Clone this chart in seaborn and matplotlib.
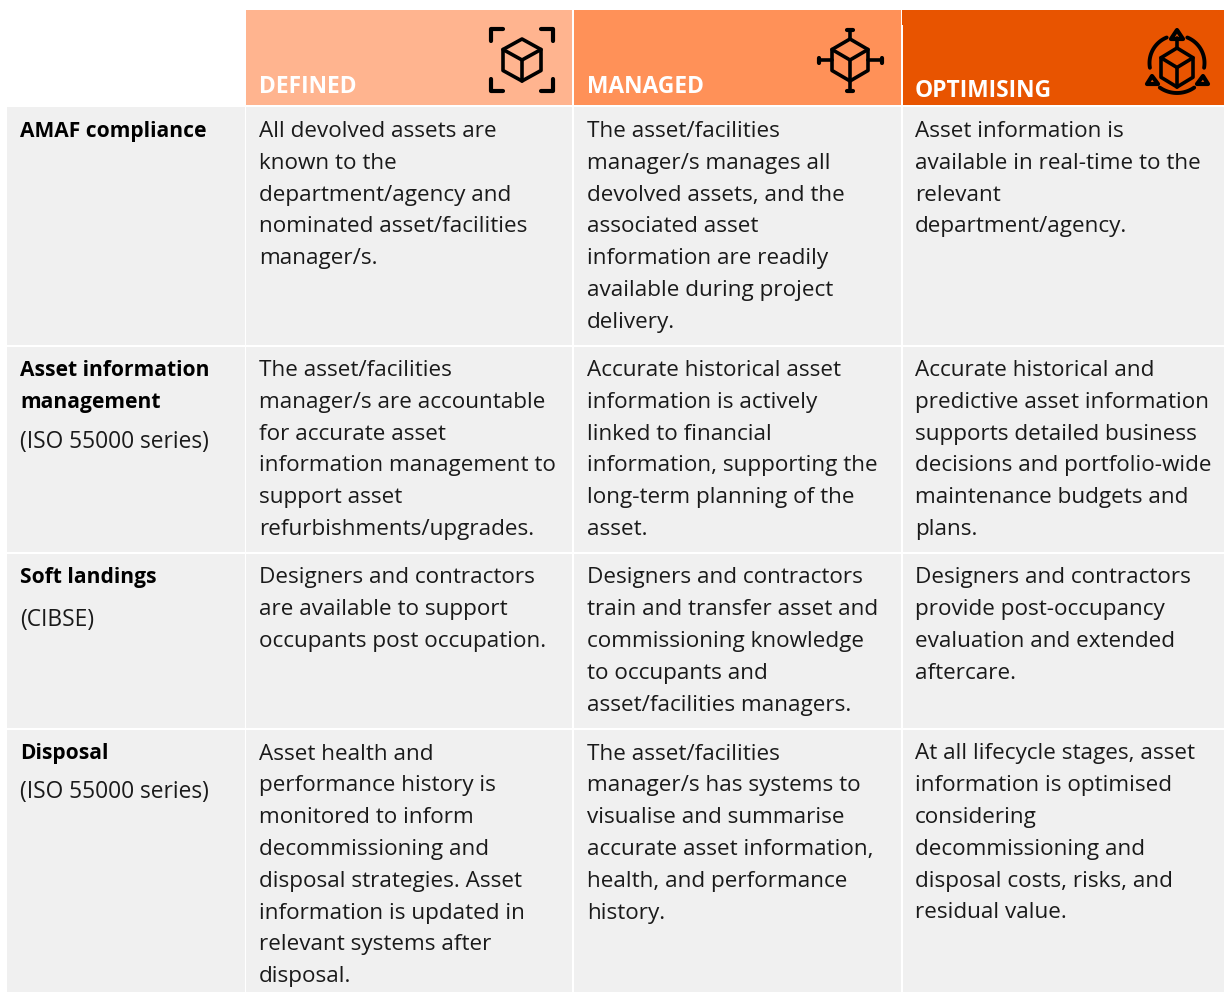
import numpy as np
import matplotlib
matplotlib.use("Agg")
import matplotlib.pyplot as plt
from matplotlib.patches import Rectangle, Polygon
import seaborn as sns

# ====================================
# TABLE CONTENT
# ====================================

headers = ["DEFINED", "MANAGED", "OPTIMISING"]

row_titles = [
    ["AMAF compliance"],
    ["Asset information", "management"],
    ["Soft landings"],
    ["Disposal"],
]
row_notes = ["", "(ISO 55000 series)", "(CIBSE)", "(ISO 55000 series)"]

defined_text = [
    ["All devolved assets are", "known to the", "department/agency and",
     "nominated asset/facilities", "manager/s."],
    ["The asset/facilities", "manager/s are accountable", "for accurate asset",
     "information management to", "support asset", "refurbishments/upgrades."],
    ["Designers and contractors", "are available to support", "occupants post occupation."],
    ["Asset health and", "performance history is", "monitored to inform", "decommissioning and",
     "disposal strategies. Asset", "information is updated in", "relevant systems after", "disposal."],
]
managed_text = [
    ["The asset/facilities", "manager/s manages all", "devolved assets, and the",
     "associated asset", "information are readily", "available during project", "delivery."],
    ["Accurate historical asset", "information is actively", "linked to financial",
     "information, supporting the", "long-term planning of the", "asset."],
    ["Designers and contractors", "train and transfer asset and", "commissioning knowledge",
     "to occupants and", "asset/facilities managers."],
    ["The asset/facilities", "manager/s has systems to", "visualise and summarise",
     "accurate asset information,", "health, and performance", "history."],
]
optimising_text = [
    ["Asset information is", "available in real-time to the", "relevant", "department/agency."],
    ["Accurate historical and", "predictive asset information", "supports detailed business",
     "decisions and portfolio-wide", "maintenance budgets and", "plans."],
    ["Designers and contractors", "provide post-occupancy", "evaluation and extended", "aftercare."],
    ["At all lifecycle stages, asset", "information is optimised", "considering",
     "decommissioning and", "disposal costs, risks, and", "residual value."],
]

# ====================================
# LAYOUT (pixels)
# ====================================

sns.set_theme(style="white")
plt.rcParams["font.family"] = ["Open Sans", "DejaVu Sans"]

header_colors = ["#FFB48F", "#FF9158", "#E85400"]
body_color = "#F0F0F0"
ink = "#1A1A1A"
font_size = 16.2
note_size = 16.4
title_size = 15.1

col_edges = [(7, 244.5), (246, 572), (574, 901), (902.7, 1224)]
text_x = [20, 259, 587, 915]
row_edges = [(106.7, 345), (347, 552), (554, 728), (730, 992)]
line_y = [129.5, 368.5, 576, 752]
note_y = [None, 440, 618, 791]
line_gap = 31.8

fig = plt.figure(figsize=(12.24, 9.92), dpi=100)
ax = fig.add_axes([0, 0, 1, 1])
ax.set_xlim(0, 1224)
ax.set_ylim(992, 0)
ax.axis("off")

# ====================================
# HEADER
# ====================================

ax.add_patch(Rectangle((246, 10), 326, 95, color=header_colors[0], lw=0))
ax.add_patch(Rectangle((574, 10), 327, 95, color=header_colors[1], lw=0))
ax.add_patch(Rectangle((902.7, 10), 321.3, 95, color=header_colors[2], lw=0))
ax.add_patch(Rectangle((901.5, 10), 2, 15, color=header_colors[2], lw=0))

header_y = [93, 93, 97]
for i, name in enumerate(headers):
    ax.text(text_x[i + 1], header_y[i], name, color="white", fontsize=16.4,
            fontweight="bold", va="baseline", ha="left")

# ====================================
# BODY
# ====================================

columns = [defined_text, managed_text, optimising_text]
for r, (top, bottom) in enumerate(row_edges):
    for left, right in col_edges:
        ax.add_patch(Rectangle((left, top), right - left, bottom - top, color=body_color, lw=0))

    for k, line in enumerate(row_titles[r]):
        ax.text(text_x[0], line_y[r] + 7.5 + k * line_gap, line, color="black",
                fontsize=title_size, fontweight="bold", va="baseline", ha="left")
    if row_notes[r]:
        ax.text(text_x[0], note_y[r] + 7.5, row_notes[r], color=ink,
                fontsize=note_size, va="baseline", ha="left")

    for c, column in enumerate(columns):
        for k, line in enumerate(column[r]):
            ax.text(text_x[c + 1], line_y[r] + 7.5 + k * line_gap, line, color=ink,
                    fontsize=font_size, va="baseline", ha="left")

# ====================================
# ICONS
# ====================================


def draw_cube(cx, top, bottom, half):
    mid = (top + bottom) / 2
    q = (bottom - top) / 4
    hexagon = [(cx, top), (cx + half, top + q), (cx + half, bottom - q),
               (cx, bottom), (cx - half, bottom - q), (cx - half, top + q)]
    ax.add_patch(Polygon(hexagon, closed=True, fill=False, ec="black", lw=2.6, joinstyle="round"))
    ax.plot([cx - half, cx, cx + half], [top + q, mid, top + q], color="black", lw=2.6)
    ax.plot([cx, cx], [mid, bottom], color="black", lw=2.6)


def draw_line(xs, ys, width=2.6):
    ax.plot(xs, ys, color="black", lw=width, solid_capstyle="round", solid_joinstyle="round")


# defined: cube in corner brackets
draw_cube(522, 39, 81, 19)
for sx, sy in [(490.5, 29), (552.5, 29), (490.5, 91), (552.5, 91)]:
    dx = 12 if sx < 522 else -12
    dy = 12 if sy < 60 else -12
    draw_line([sx + dx, sx, sx], [sy, sy, sy + dy], 3)

# managed: cube with four stems
draw_cube(850, 39, 81, 18)
draw_line([850, 850], [31, 39])
draw_line([850, 850], [81, 89])
draw_line([820, 832], [60, 60])
draw_line([868, 880], [60, 60])
draw_line([847, 853], [29.5, 29.5], 3)
draw_line([847, 853], [90.5, 90.5], 3)
draw_line([818.5, 818.5], [57.5, 62.5], 3)
draw_line([881.5, 881.5], [57.5, 62.5], 3)

# optimising: cube with arrows and arcs
draw_cube(1177, 48, 87, 16)
draw_line([1177, 1177], [38, 48])
for tri in [[(1177, 30), (1183, 39), (1171, 39)],
            [(1152, 76), (1158, 84), (1147, 84)],
            [(1203, 76), (1208, 84), (1197, 84)]]:
    ax.add_patch(Polygon(tri, closed=True, fill=False, ec="black", lw=3, joinstyle="round"))

angles = np.radians(np.linspace(112, 190, 30))
draw_line(1177 + 27.5 * np.cos(angles), 63 - 27.5 * np.sin(angles), 2.8)
draw_line(1177 - 27.5 * np.cos(angles), 63 - 27.5 * np.sin(angles), 2.8)
angles = np.radians(np.linspace(235, 305, 30))
draw_line(1177 + 30 * np.cos(angles), 63 - 30 * np.sin(angles), 2.8)

fig.savefig("out.png", dpi=100, facecolor="white")
